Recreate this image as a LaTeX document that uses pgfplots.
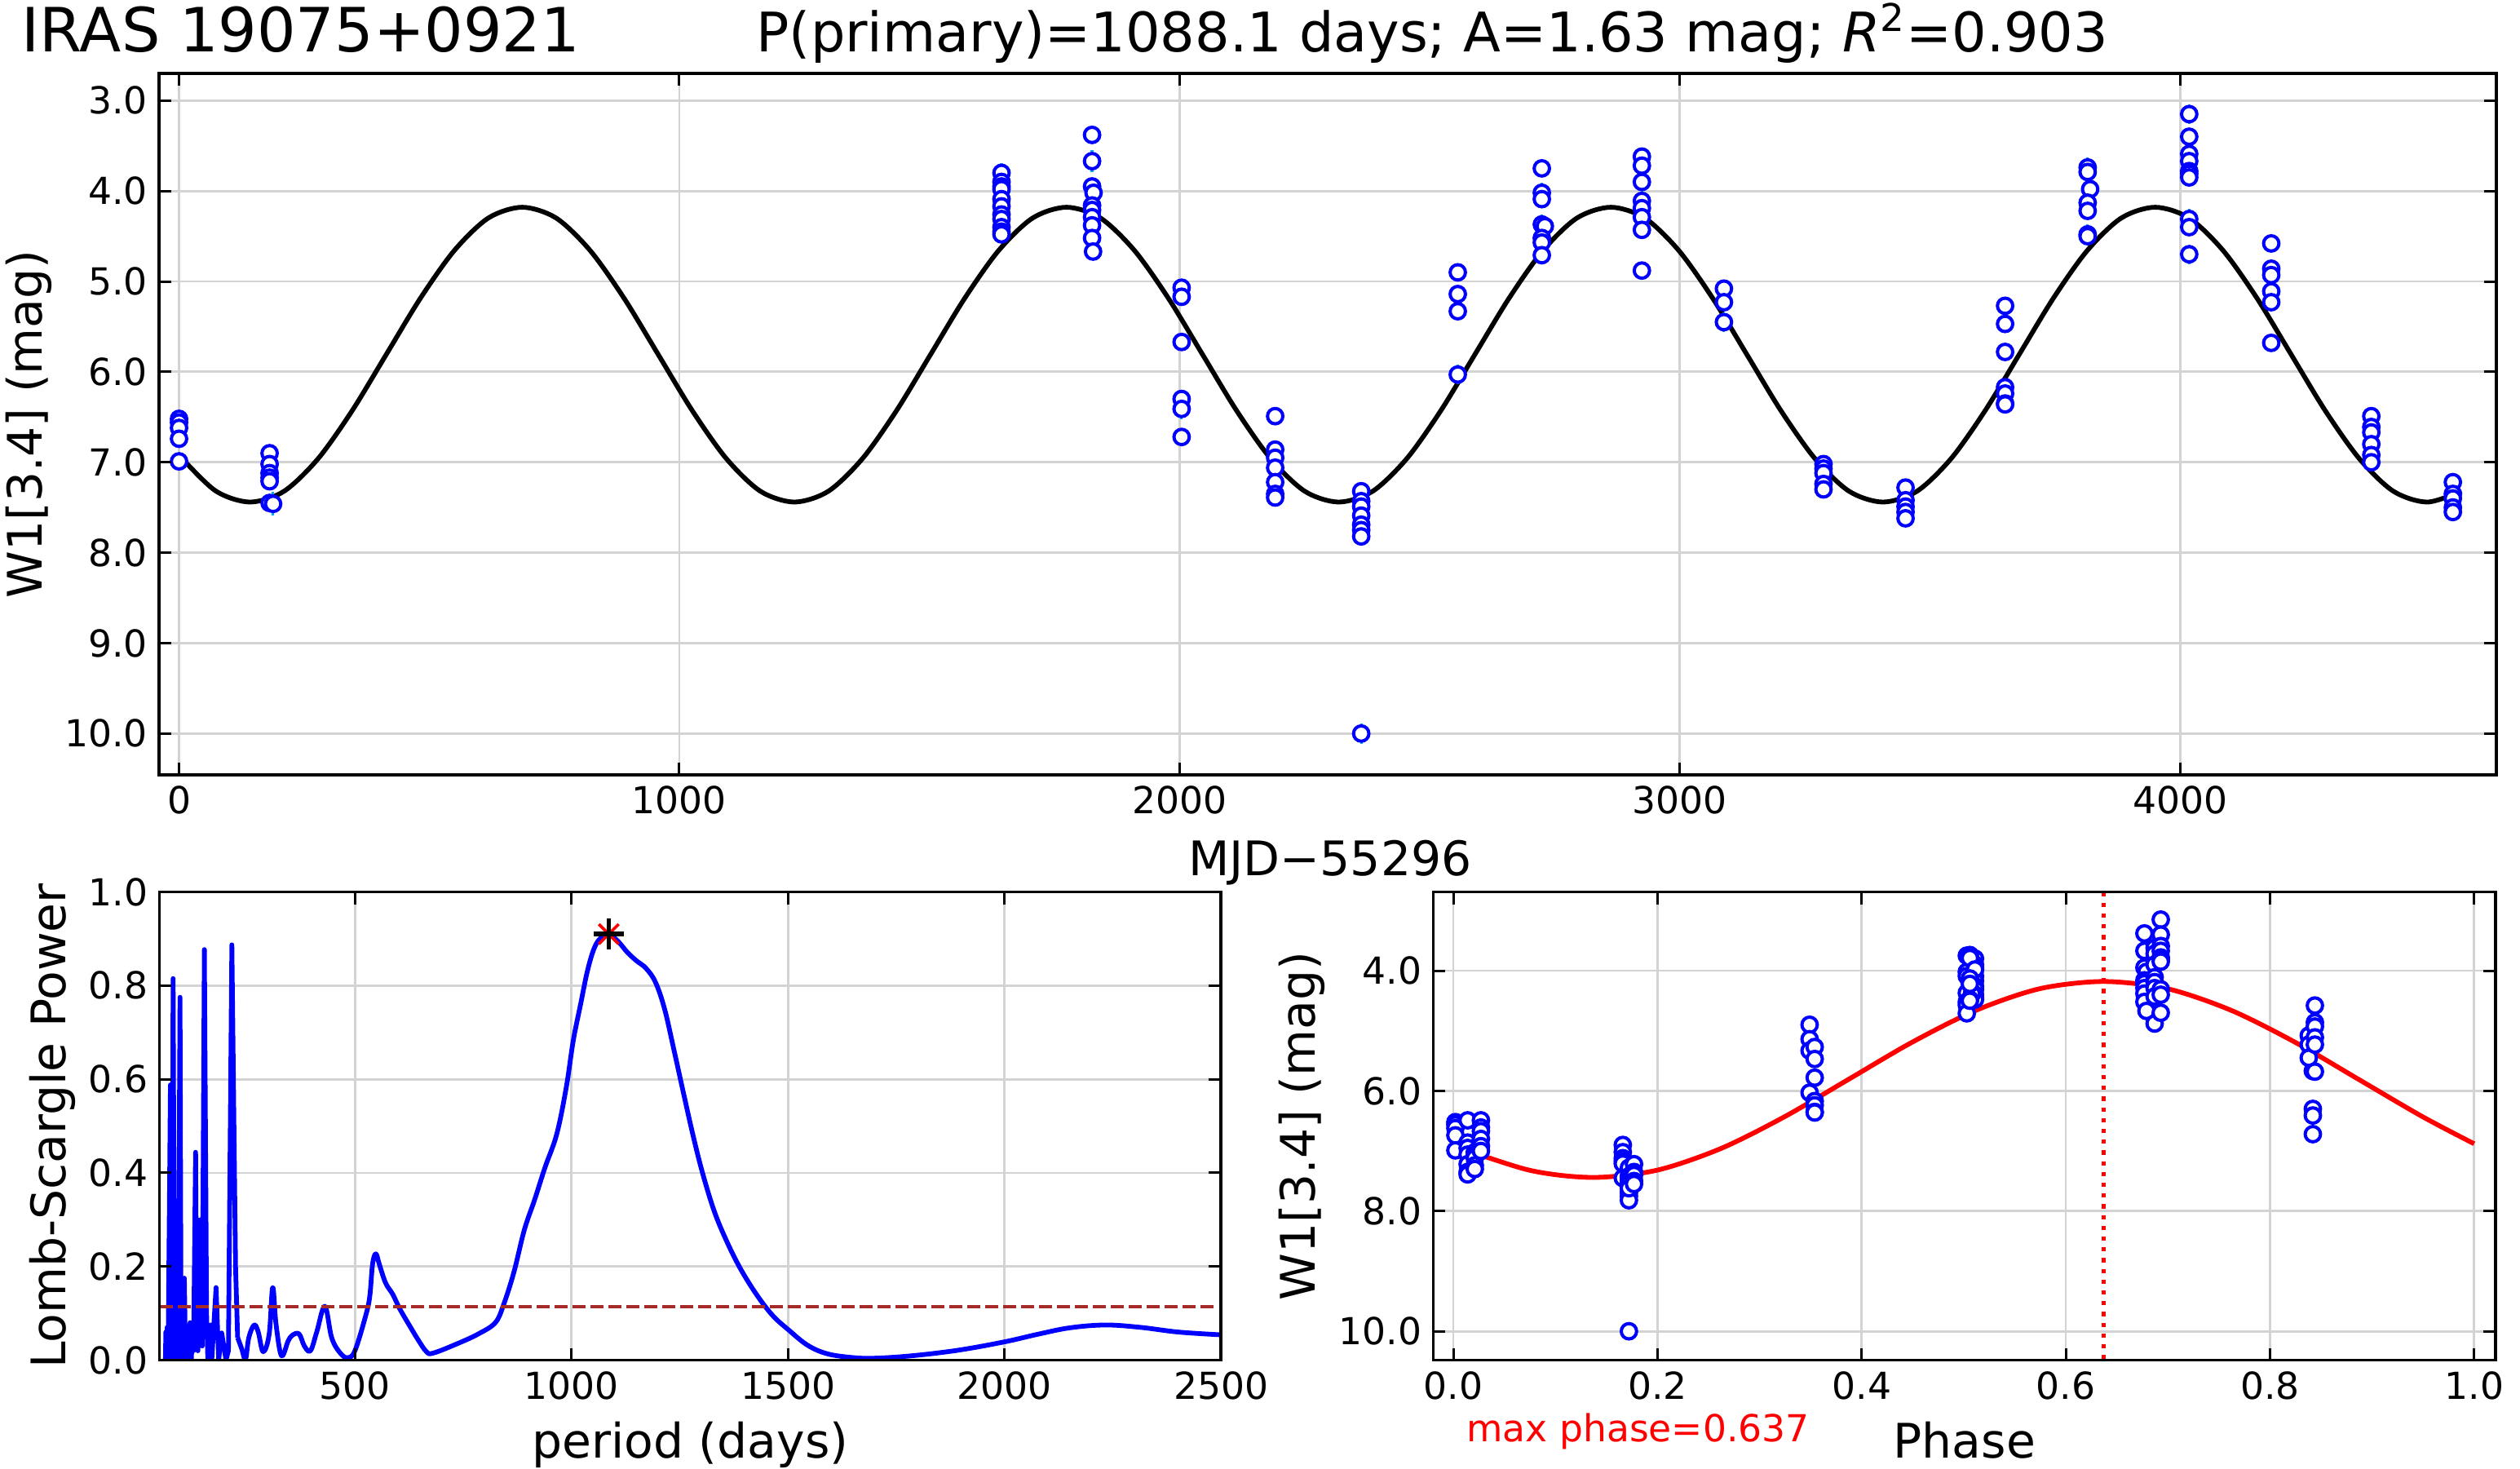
\documentclass[border=0pt]{standalone}
\usepackage{fontspec}
\setmainfont{DejaVu Sans}
\usepackage{pgfplots}
\usepackage{pgfplotstable}
\pgfplotsset{compat=1.18}
\definecolor{gridgray}{RGB}{211,211,211}
\definecolor{brownred}{RGB}{165,42,42}
% frame and ticks above the curves
\pgfplotsset{layers/lines top/.define layer set={axis background,axis grid,main,axis ticks,axis lines,axis tick labels,axis descriptions,axis foreground}{/pgfplots/layers/standard}}
\pgfplotsset{lc/.style={
  set layers=lines top, scale only axis, clip=true,
  axis line style={black,line width=0.85pt},
  tick style={black,line width=0.75pt},
  major tick length=3.75pt, tick align=inside,
  grid=major, grid style={gridgray,line width=0.7pt},
  tick label style={font=\fontsize{11.4}{13}\selectfont},
  label style={font=\fontsize{14.6}{17}\selectfont},
  /pgf/number format/assume math mode=true,
  /pgf/number format/1000 sep={},
  xtick pos=both, ytick pos=both,
  xticklabel pos=lower, yticklabel pos=left,
},
  pts/.style={only marks, mark=*, mark size=2.35pt, mark options={draw=blue,fill=white,line width=1pt}},
}

% t (days), W1, phase
\pgfplotstableread{
t mag phase
0 6.52 0.002
0 6.56 0.002
0 6.62 0.002
0 6.74 0.002
0 6.99 0.002
181 6.90 0.166
181 7.02 0.166
181 7.12 0.166
181 7.17 0.166
181 7.21 0.166
181 7.45 0.166
188 7.46 0.173
1644 3.80 0.511
1644 3.90 0.511
1644 3.95 0.511
1644 3.98 0.511
1644 4.09 0.511
1644 4.17 0.511
1644 4.26 0.511
1644 4.31 0.511
1644 4.40 0.511
1644 4.45 0.511
1644 4.48 0.511
1825 3.38 0.677
1825 3.67 0.677
1825 3.95 0.677
1828 4.02 0.679
1825 4.16 0.677
1825 4.21 0.677
1825 4.29 0.677
1825 4.38 0.677
1825 4.52 0.677
1827 4.67 0.679
2004 5.07 0.842
2004 5.17 0.842
2004 5.67 0.842
2004 6.30 0.842
2004 6.41 0.842
2004 6.72 0.842
2191 6.49 0.014
2191 6.86 0.014
2191 6.95 0.014
2191 7.06 0.014
2191 7.22 0.014
2191 7.35 0.014
2191 7.39 0.014
2363 7.32 0.172
2363 7.43 0.172
2363 7.49 0.172
2363 7.59 0.172
2363 7.69 0.172
2363 7.75 0.172
2363 7.82 0.172
2363 10.00 0.172
2556 4.90 0.349
2556 5.14 0.349
2556 5.33 0.349
2556 6.03 0.349
2724 3.75 0.503
2724 4.02 0.503
2724 4.09 0.503
2724 4.37 0.503
2730 4.39 0.508
2724 4.52 0.503
2724 4.57 0.503
2724 4.71 0.503
2924 3.62 0.687
2924 3.72 0.687
2924 3.90 0.687
2924 4.11 0.687
2924 4.19 0.687
2924 4.29 0.687
2924 4.43 0.687
2924 4.88 0.687
3088 5.08 0.838
3088 5.23 0.838
3088 5.45 0.838
3287 7.02 0.021
3287 7.07 0.021
3287 7.12 0.021
3287 7.24 0.021
3287 7.30 0.021
3451 7.28 0.172
3451 7.42 0.172
3451 7.49 0.172
3451 7.55 0.172
3451 7.62 0.172
3650 5.27 0.354
3650 5.47 0.354
3650 5.78 0.354
3650 6.17 0.354
3650 6.24 0.354
3650 6.35 0.354
3650 6.36 0.354
3815 3.74 0.506
3815 3.79 0.506
3820 3.98 0.511
3815 4.13 0.506
3815 4.22 0.506
3815 4.48 0.506
3815 4.50 0.506
4018 3.15 0.693
4018 3.40 0.693
4018 3.59 0.693
4018 3.67 0.693
4018 3.78 0.693
4018 3.81 0.693
4018 3.85 0.693
4018 4.31 0.693
4018 4.40 0.693
4018 4.70 0.693
4182 4.58 0.844
4182 4.86 0.844
4182 4.93 0.844
4182 5.11 0.844
4182 5.23 0.844
4182 5.68 0.844
4382 6.49 0.027
4382 6.61 0.027
4382 6.67 0.027
4382 6.80 0.027
4382 6.92 0.027
4382 7.00 0.027
4545 7.22 0.177
4545 7.35 0.177
4545 7.40 0.177
4545 7.50 0.177
4545 7.55 0.177
}\photdata

% the few points with a visible error bar
\pgfplotstableread{
t mag err
188 7.46 0.13
1644 3.80 0.11
1825 3.67 0.12
2004 6.41 0.11
2363 10.00 0.11
2556 6.03 0.11
2724 4.02 0.11
2724 4.37 0.11
2924 4.11 0.11
3088 5.45 0.11
3815 3.74 0.11
3815 4.48 0.11
4018 3.15 0.11
4018 3.81 0.13
4018 4.31 0.11
4018 4.70 0.11
}\errdata

\pgfplotstableread{
t mag
0 6.92
6 6.96
74 7.32
142 7.44
210 7.32
278 6.96
346 6.43
414 5.81
482 5.19
550 4.66
618 4.30
686 4.18
754 4.30
822 4.66
890 5.19
958 5.81
1026 6.43
1094 6.96
1162 7.32
1230 7.44
1298 7.32
1366 6.96
1434 6.43
1502 5.81
1570 5.19
1638 4.66
1706 4.30
1774 4.18
1842 4.30
1910 4.66
1978 5.19
2046 5.81
2114 6.43
2182 6.96
2250 7.32
2318 7.44
2386 7.32
2454 6.96
2522 6.43
2590 5.81
2658 5.19
2726 4.66
2794 4.30
2862 4.18
2930 4.30
2998 4.66
3066 5.19
3134 5.81
3202 6.43
3270 6.96
3338 7.32
3406 7.44
3474 7.32
3542 6.96
3610 6.43
3678 5.81
3746 5.19
3814 4.66
3882 4.30
3950 4.18
4018 4.30
4086 4.66
4154 5.19
4222 5.81
4290 6.43
4358 6.96
4426 7.32
4494 7.44
4562 7.32
}\fitcurve

\pgfplotstableread{
phase mag
0.000 6.91
0.0745 7.32
0.137 7.44
0.1995 7.32
0.262 6.96
0.3245 6.43
0.387 5.81
0.4495 5.19
0.512 4.66
0.5745 4.30
0.637 4.18
0.6995 4.30
0.762 4.66
0.8245 5.19
0.887 5.81
0.9495 6.43
1.000 6.88
}\phasecurve

% short periods, spiky
\pgfplotstableread{
p pw
62 0.00
63 0.06
65 0.02
66 0.07
68 0.00
71 0.30
73.6 0.588
75 0.10
77 0.00
79.8 0.815
82 0.30
84 0.00
87 0.15
89 0.00
92 0.10
95.7 0.775
98 0.10
100 0.00
103 0.12
105.7 0.175
108 0.03
110 0.00
113 0.05
116 0.00
119 0.08
122 0.00
124 0.08
127 0.02
131.7 0.444
134.5 0.05
137 0.02
143 0.30
147 0.03
152 0.877
157 0.10
160 0.00
166 0.075
169 0.00
179 0.155
185 0.00
192 0.058
202 0.00
207.5 0.02
215.5 0.887
224 0.20
228.8 0.048
}\spikes

\pgfplotstableread{
p pw
228.8 0.048
238 0.025
247 0.002
254.6 0.048
267 0.075
276.4 0.06
287.8 0.018
301.6 0.055
309.8 0.155
317.4 0.078
330 0.0095
345.6 0.041
355 0.053
370.7 0.056
383 0.03
397 0.02
411.5 0.06
430.3 0.115
446 0.048
465 0.016
482.8 0.005
499.7 0.02
524.6 0.095
534 0.136
540.5 0.205
548 0.227
556 0.205
570.5 0.165
587.5 0.14
603 0.11
627 0.072
646 0.043
665 0.018
680.6 0.015
736 0.035
785 0.056
824 0.08
843 0.118
867 0.188
891 0.278
915 0.343
939 0.412
966 0.483
988 0.583
1004 0.682
1021 0.760
1037 0.832
1053 0.881
1069 0.903
1085 0.91
1107 0.895
1129 0.871
1150 0.853
1172 0.837
1194 0.807
1215 0.750
1237 0.661
1259 0.569
1280 0.483
1302 0.402
1329 0.320
1356 0.259
1388 0.199
1426 0.142
1464 0.096
1502 0.064
1545 0.032
1589 0.014
1643 0.006
1697 0.004
1783 0.009
1892 0.021
2000 0.039
2076 0.055
2151 0.069
2233 0.075
2314 0.070
2401 0.060
2500 0.054
}\lsbroad

\begin{document}
\begin{tikzpicture}[x=1pt,y=1pt]
\path (0,0) rectangle (772.5,450);

% light curve
\begin{axis}[lc, at={(48.75pt,212.5pt)}, anchor=south west,
  width=716.5pt, height=215pt,
  xmin=-40, xmax=4632, ymin=2.70, ymax=10.457, y dir=reverse,
  xtick={0,1000,2000,3000,4000}, ytick={3,4,5,6,7,8,9,10},
  yticklabel style={/pgf/number format/fixed,/pgf/number format/fixed zerofill,/pgf/number format/precision=1},
  ylabel={W1[3.4] (mag)},
  ylabel style={at={(axis description cs:-0.0455,0.5)},anchor=south,inner sep=0pt},
  xlabel={MJD−55296},
  xlabel style={at={(axis description cs:0.501,-0.077)},anchor=north},
]
\addplot[black,line width=1.45pt,smooth,line join=round] table[x=t,y=mag] {\fitcurve};
\addplot[only marks,mark=none,cyan,forget plot,
  error bars/.cd,y dir=both,y explicit,error bar style={cyan,line width=0.8pt},error mark=none]
  table[x=t,y=mag,y error=err] {\errdata};
\addplot[pts] table[x=t,y=mag] {\photdata};
\end{axis}

% periodogram
\begin{axis}[lc, at={(48.85pt,33.125pt)}, anchor=south west,
  width=325.4pt, height=143.5pt,
  xmin=48, xmax=2500, ymin=0, ymax=1,
  xtick={500,1000,1500,2000,2500}, ytick={0,0.2,0.4,0.6,0.8,1},
  yticklabel style={/pgf/number format/fixed,/pgf/number format/fixed zerofill,/pgf/number format/precision=1},
  xlabel={period (days)},
  ylabel={Lomb-Scargle Power},
  ylabel style={at={(axis description cs:-0.0785,0.5)},anchor=south,inner sep=0pt},
]
\addplot[blue,line width=1.45pt,line join=round] table[x=p,y=pw] {\spikes};
\addplot[blue,line width=1.45pt,smooth,tension=0.6,line join=round] table[x=p,y=pw] {\lsbroad};
\addplot[brownred,line width=1pt,dash pattern=on 3.8pt off 1.7pt] coordinates {(50,0.115) (2490,0.115)};
\addplot[only marks,mark=x,mark size=4.3pt,mark options={red,line width=0.9pt}] coordinates {(1086,0.91)};
\addplot[only marks,mark=+,mark size=4.7pt,mark options={black,line width=1.4pt}] coordinates {(1086,0.91)};
\end{axis}

% phased curve
\begin{axis}[lc, at={(439.35pt,33.125pt)}, anchor=south west,
  width=325.65pt, height=143.5pt,
  xmin=-0.0197, xmax=1.021, ymin=2.69, ymax=10.48, y dir=reverse,
  xtick={0,0.2,0.4,0.6,0.8,1}, ytick={4,6,8,10},
  xticklabel style={/pgf/number format/fixed,/pgf/number format/fixed zerofill,/pgf/number format/precision=1},
  yticklabel style={/pgf/number format/fixed,/pgf/number format/fixed zerofill,/pgf/number format/precision=1},
  xlabel={Phase},
  ylabel={W1[3.4] (mag)},
  ylabel style={at={(axis description cs:-0.1017,0.5)},anchor=south,inner sep=0pt},
]
\addplot[red,line width=1.45pt,smooth,line join=round] table[x=phase,y=mag] {\phasecurve};
\addplot[red,line width=1.1pt,dash pattern=on 1.3pt off 2pt] coordinates {(0.637,2.69) (0.637,10.48)};
\addplot[pts] table[x=phase,y=mag] {\photdata};
\end{axis}

\node[anchor=base west,inner sep=0pt,font=\fontsize{18.7}{20}\selectfont] at (6.5,434.2) {IRAS 19075+0921};
\node[anchor=base west,inner sep=0pt,font=\fontsize{16.72}{18}\selectfont] at (231.7,434.2) {P(primary)=1088.1 days; A=1.63 mag; \textit{R}\textsuperscript{2}=0.903};
\node[anchor=base west,inner sep=0pt,font=\fontsize{11.4}{13}\selectfont,text=red] at (449.4,8.1) {max phase=0.637};
\pgfresetboundingbox
\useasboundingbox (0,0) rectangle (772.5,450);
\end{tikzpicture}
\end{document}
